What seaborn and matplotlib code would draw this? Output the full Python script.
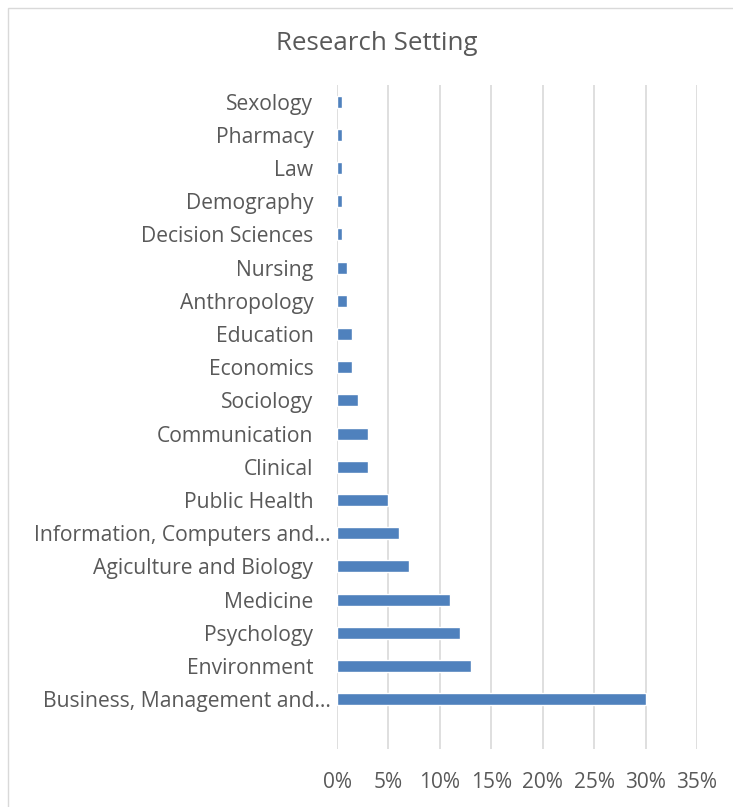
import matplotlib
matplotlib.use("Agg")
import matplotlib.pyplot as plt
import matplotlib.transforms as mtransforms
from matplotlib.patches import Rectangle
import seaborn as sns
import pandas as pd

categories = ["Sexology", "Pharmacy", "Law", "Demography", "Decision Sciences",
              "Nursing", "Anthropology", "Education", "Economics", "Sociology",
              "Communication", "Clinical", "Public Health",
              "Information, Computers and\u2026", "Agiculture and Biology",
              "Medicine", "Psychology", "Environment",
              "Business, Management and\u2026"]
values = [0.5, 0.5, 0.5, 0.5, 0.5, 1, 1, 1.5, 1.5, 2, 3, 3, 5, 6, 7, 11, 12, 13, 30]
xticks = [0, 5, 10, 15, 20, 25, 30, 35]
title = "Research Setting"

sns.set_theme(style="white")
plt.rcParams['font.family'] = ['Open Sans', 'DejaVu Sans']

W, H = 733, 807
fig = plt.figure(figsize=(W / 100, H / 100), dpi=100)
ax = fig.add_axes([337 / W, (H - 749) / H, (697 - 337) / W, (749 - 85) / H])

df = pd.DataFrame({"cat": categories, "val": values})
sns.barplot(data=df, y="cat", x="val", order=categories, color="#4F81BD",
            saturation=1, width=0.36, ax=ax, orient="h")

ax.set_xlim(0, 35)
ax.set_ylim(19.5, -0.5)
ax.set_xticks(xticks)
ax.set_xticklabels([f"{t}%" for t in xticks])
ax.set_xlabel("")
ax.set_ylabel("")
ax.grid(axis="x", color="#D9D9D9", linewidth=1.2)
ax.set_axisbelow(True)
for s in ax.spines.values():
    s.set_visible(False)
ax.tick_params(axis="y", length=0, pad=17, labelsize=15.2, labelcolor="#595959")
ax.tick_params(axis="x", length=0, pad=16.5, labelsize=15, labelcolor="#595959")

for lab in ax.get_yticklabels():
    if lab.get_text().endswith("\u2026"):
        lab.set_transform(lab.get_transform() +
                          mtransforms.ScaledTranslation(17 / 100, 0, fig.dpi_scale_trans))

fig.text(377 / W, (H - 43) / H, title, ha="center", va="center",
         fontsize=18.6, color="#595959")

fig.patches.append(Rectangle((8 / W, -0.05), 1.0, (H - 8) / H + 0.05,
                             transform=fig.transFigure, fill=False,
                             edgecolor="#D9D9D9", linewidth=1.0))

fig.savefig("out.png", dpi=100)
